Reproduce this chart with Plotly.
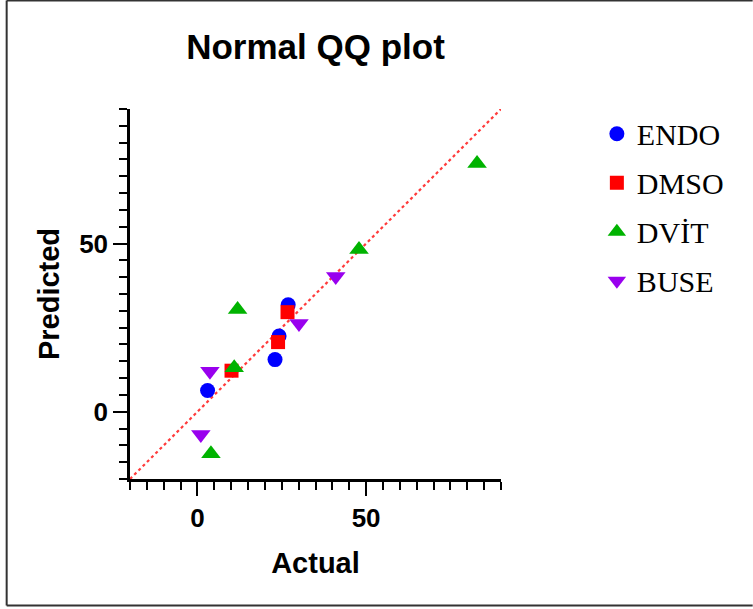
import plotly.graph_objects as go

# ---- data ----
endo_x = [3.0, 23.0, 24.2, 26.9]
endo_y = [6.3, 15.5, 22.5, 31.8]
dmso_x = [10.1, 23.9, 26.7]
dmso_y = [12.2, 20.7, 29.6]
dvit_x = [82.9, 47.9, 11.9, 10.9, 4.0]
dvit_y = [73.8, 48.2, 30.4, 13.1, -12.5]
buse_x = [41.0, 30.1, 3.7, 1.0]
buse_y = [40.2, 26.2, 12.0, -6.8]
line_xy = [-20, 90]
x_ticks = [0, 50]
y_ticks = [0, 50]

W, H = 753, 609
L, R, T, B = 129.5, 252, 109.3, 129.5
pw = W - L - R
ph = H - T - B

fig = go.Figure()
fig.add_trace(go.Scatter(x=line_xy, y=line_xy, mode="lines", showlegend=False,
                         line=dict(color="#ff3b3b", width=2.2, dash="dot"), hoverinfo="skip"))

series = [
    ("ENDO", endo_x, endo_y, "circle", "#0000ff", 15),
    ("DMSO", dmso_x, dmso_y, "square", "#ff0000", 14),
    ("DVİT", dvit_x, dvit_y, "triangle-up", "#00b300", 17),
    ("BUSE", buse_x, buse_y, "triangle-down", "#9900ee", 17),
]
for name, xs, ys, sym, col, sz in series:
    fig.add_trace(go.Scatter(x=xs, y=ys, mode="markers", name=name, legendgroup=name,
                             marker=dict(symbol=sym, color=col, size=sz, line=dict(width=0))))

axis_common = dict(
    showgrid=False, zeroline=False, showline=True, linecolor="black", linewidth=2.5,
    ticks="outside", ticklen=14, tickwidth=2, tickcolor="black",
    tickfont=dict(family="Liberation Sans, Arial", size=26, color="black", weight="bold"),
    minor=dict(ticks="outside", ticklen=8, tickwidth=2, tickcolor="black", dtick=5),
)
fig.update_xaxes(range=[-20, 90], tickvals=x_ticks, **axis_common,
                 title=dict(text="<b>Actual</b>", standoff=21,
                            font=dict(family="Liberation Sans, Arial", size=29, color="black")))
fig.update_yaxes(range=[-20, 90], tickvals=y_ticks, **axis_common,
                 title=dict(text="<b>Predicted</b>", standoff=11,
                            font=dict(family="Liberation Sans, Arial", size=29, color="black")))

# figure border (left, top, bottom visible)
bx0 = (6 - L) / pw
bx1 = (W - L) / pw
by0 = -(606 - (H - B)) / ph
by1 = ((H - B) - 0.8) / ph
border = dict(color="#333333", width=2)
fig.add_shape(type="line", xref="paper", yref="paper", x0=bx0, x1=bx0, y0=by0, y1=by1, line=border)
fig.add_shape(type="line", xref="paper", yref="paper", x0=bx0, x1=bx1, y0=by1, y1=by1, line=border)
fig.add_shape(type="line", xref="paper", yref="paper", x0=bx0, x1=bx1, y0=by0, y1=by0, line=border)

fig.update_layout(
    width=W, height=H,
    margin=dict(l=L, r=R, t=T, b=B),
    plot_bgcolor="white", paper_bgcolor="white",
    title=dict(text="<b>Normal QQ plot</b>", x=0.5, xref="paper", y=1 - 47 / H, yref="container",
               yanchor="middle", xanchor="center",
               font=dict(family="Liberation Sans, Arial", size=35, color="black")),
    legend=dict(x=(597 - L) / pw, y=(H - B - 108) / ph, xanchor="left", yanchor="top",
                font=dict(family="Liberation Serif, Times New Roman", size=30, color="black"),
                tracegroupgap=7, bgcolor="rgba(0,0,0,0)"),
    showlegend=True,
)

fig.write_html("out.html", config={"displayModeBar": False},
               post_script="document.body.style.margin='0';document.body.style.overflow='hidden';")
